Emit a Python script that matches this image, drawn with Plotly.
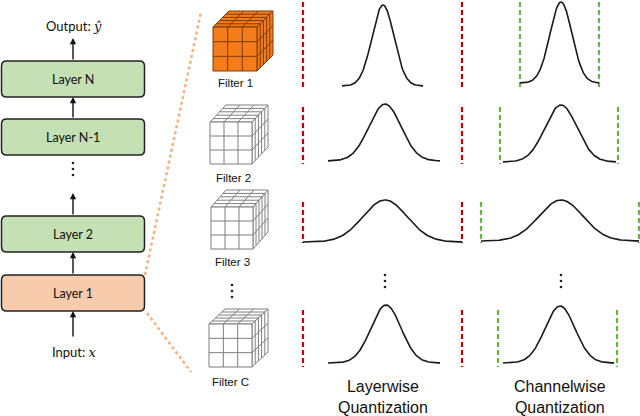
import numpy as np
import plotly.graph_objects as go

# ---- diagram content ----
layer_labels = ["Layer N", "Layer N-1", "Layer 2", "Layer 1"]
layer_tops = [61, 119, 216, 275]
layer_fills = ["#C5E0B4", "#C5E0B4", "#C5E0B4", "#F8CBAD"]

filter_labels = ["Filter 1", "Filter 2", "Filter 3", "Filter C"]
filter_label_y = [83, 178, 262, 382]
filter_label_x = [235, 233, 232, 230]

# gaussian rows: center, sigma, peak y, baseline y, left end, right end
lw_center = [383, 385, 385, 386]
lw_sigma = [11, 16, 22, 15]
lw_peak = [5, 104, 200, 305]
lw_base = [86, 161, 242, 363]
lw_left = [342, 328, 303, 328]
lw_right = [423, 440, 462, 440]

cw_center = [561, 561, 561, 560]
cw_sigma = [11, 16, 22, 15]
cw_peak = [2, 105, 200, 306]
cw_base = [83, 162, 241, 363]
cw_left = [520, 503, 481, 503]
cw_right = [599, 616, 639, 614]

# dashed bounds per row
row_top = [2, 107, 202, 310]
row_bot = [88, 164, 243, 367]
red_x = [303, 462]
green_left = [520, 500, 481, 498]
green_right = [599, 618, 639, 617]

fig = go.Figure()
shapes = []
annotations = []


def rounded_rect(x0, y0, x1, y1, r):
    return (f"M {x0+r},{y0} L {x1-r},{y0} Q {x1},{y0} {x1},{y0+r} "
            f"L {x1},{y1-r} Q {x1},{y1} {x1-r},{y1} L {x0+r},{y1} "
            f"Q {x0},{y1} {x0},{y1-r} L {x0},{y0+r} Q {x0},{y0} {x0+r},{y0} Z")


# layer boxes
for lab, top, fc in zip(layer_labels, layer_tops, layer_fills):
    shapes.append(dict(type="path", path=rounded_rect(1.5, top, 144.5, top + 36, 5),
                       xref="x", yref="y", fillcolor=fc,
                       line=dict(color="#222222", width=1.5), layer="below"))
    annotations.append(dict(x=73, y=top + 18, text=lab, showarrow=False,
                            font=dict(family="Lato", size=12.5, color="#111111")))

# arrows on the left stack
arrows = [(61, 38), (119, 97), (216, 193), (275, 252), (338, 311)]
for y_from, y_to in arrows:
    annotations.append(dict(x=73, y=y_to, ax=73, ay=y_from, xref="x", yref="y",
                            axref="x", ayref="y", text="", showarrow=True,
                            arrowhead=2, arrowsize=0.9, arrowwidth=1.4,
                            arrowcolor="#111111"))

annotations.append(dict(x=74, y=26, text="Output: <span style='font-family:DejaVu Serif'><i>ŷ</i></span>",
                        showarrow=False, font=dict(family="Lato", size=13, color="#111111")))
annotations.append(dict(x=74, y=352, text="Input: <span style='font-family:DejaVu Serif'><i>x</i></span>",
                        showarrow=False, font=dict(family="Lato", size=13, color="#111111")))

# orange dotted zoom lines
for (xa, ya, xb, yb) in [(145, 275, 201, 12), (147, 313, 191, 372)]:
    shapes.append(dict(type="line", x0=xa, y0=ya, x1=xb, y1=yb, xref="x", yref="y",
                       line=dict(color="#F4B183", width=2.5, dash="dot")))


def cube(x0, y0, s, dx, dy, fill, edge, nd=5):
    fl = dict(color=edge, width=1)
    # faces: top, side, front
    shapes.append(dict(type="path", xref="x", yref="y", fillcolor=fill, line=fl,
                       path=f"M {x0},{y0} L {x0+s},{y0} L {x0+s+dx},{y0-dy} L {x0+dx},{y0-dy} Z"))
    shapes.append(dict(type="path", xref="x", yref="y", fillcolor=fill, line=fl,
                       path=f"M {x0+s},{y0} L {x0+s+dx},{y0-dy} L {x0+s+dx},{y0+s-dy} L {x0+s},{y0+s} Z"))
    shapes.append(dict(type="path", xref="x", yref="y", fillcolor=fill, line=fl,
                       path=f"M {x0},{y0} L {x0+s},{y0} L {x0+s},{y0+s} L {x0},{y0+s} Z"))
    for i in (1, 2):
        t = s * i / 3
        shapes.append(dict(type="line", xref="x", yref="y", x0=x0 + t, y0=y0, x1=x0 + t, y1=y0 + s, line=fl))
        shapes.append(dict(type="line", xref="x", yref="y", x0=x0, y0=y0 + t, x1=x0 + s, y1=y0 + t, line=fl))
        shapes.append(dict(type="line", xref="x", yref="y", x0=x0 + t, y0=y0, x1=x0 + t + dx, y1=y0 - dy, line=fl))
        shapes.append(dict(type="line", xref="x", yref="y", x0=x0 + s, y0=y0 + t, x1=x0 + s + dx, y1=y0 + t - dy, line=fl))
    for j in range(1, nd):
        ox, oy = dx * j / nd, dy * j / nd
        shapes.append(dict(type="line", xref="x", yref="y", x0=x0 + ox, y0=y0 - oy,
                           x1=x0 + s + ox, y1=y0 - oy, line=fl))
        shapes.append(dict(type="line", xref="x", yref="y", x0=x0 + s + ox, y0=y0 - oy,
                           x1=x0 + s + ox, y1=y0 + s - oy, line=fl))


cube(213, 27, 44, 16, 16, "#F57C1B", "#7A3A0A")
cube(210, 122, 42, 16, 17, "white", "#7F7F7F")
cube(211, 207, 42, 15, 17, "white", "#7F7F7F")
cube(209, 324, 43, 16, 15, "white", "#7F7F7F")

for lab, fx, fy in zip(filter_labels, filter_label_x, filter_label_y):
    annotations.append(dict(x=fx, y=fy, text=lab, showarrow=False,
                            font=dict(family="Liberation Sans", size=11.5, color="#111111")))

# dashed bounds
for k in range(4):
    for xv in red_x:
        fig.add_trace(go.Scatter(x=[xv, xv], y=[row_top[k], row_bot[k]], mode="lines",
                                 line=dict(color="#C00000", width=2.2, dash="5px,3px"),
                                 hoverinfo="skip", showlegend=False))
    for xv in (green_left[k], green_right[k]):
        fig.add_trace(go.Scatter(x=[xv, xv], y=[row_top[k], row_bot[k]], mode="lines",
                                 line=dict(color="#70AD47", width=2.2, dash="5px,3px"),
                                 hoverinfo="skip", showlegend=False))

# bell curves
for cen, sig, pk, bs, lft, rgt in list(zip(lw_center, lw_sigma, lw_peak, lw_base, lw_left, lw_right)) + \
        list(zip(cw_center, cw_sigma, cw_peak, cw_base, cw_left, cw_right)):
    xs = np.linspace(lft, rgt, 160)
    ys = bs - (bs - pk) * np.exp(-0.5 * ((xs - cen) / sig) ** 2)
    fig.add_trace(go.Scatter(x=xs, y=ys, mode="lines",
                             line=dict(color="#1A1A1A", width=1.6),
                             hoverinfo="skip", showlegend=False))

# vertical ellipses
for ex, ey in [(73, 163), (232, 285), (385, 275), (561, 275)]:
    fig.add_trace(go.Scatter(x=[ex, ex, ex], y=[ey, ey + 6, ey + 12], mode="markers",
                             marker=dict(size=2.6, color="#222222"),
                             hoverinfo="skip", showlegend=False))

# column titles
for cx, txt in [(383, "Layerwise<br>Quantization"), (560, "Channelwise<br>Quantization")]:
    annotations.append(dict(x=cx, y=397, text=txt, showarrow=False,
                            font=dict(family="Liberation Sans", size=16, color="#111111")))

fig.update_layout(
    width=640, height=416,
    margin=dict(l=0, r=0, t=0, b=0),
    plot_bgcolor="white", paper_bgcolor="white",
    xaxis=dict(range=[0, 640], visible=False, fixedrange=True),
    yaxis=dict(range=[416, 0], visible=False, fixedrange=True),
    shapes=shapes, annotations=annotations,
    showlegend=False,
)

# drop the browser's default 8px body margin so the 640x416 figure fills the window
fig.write_html("out.html", config={"displayModeBar": False},
               post_script="document.body.style.margin='0';document.body.style.overflow='hidden';")
